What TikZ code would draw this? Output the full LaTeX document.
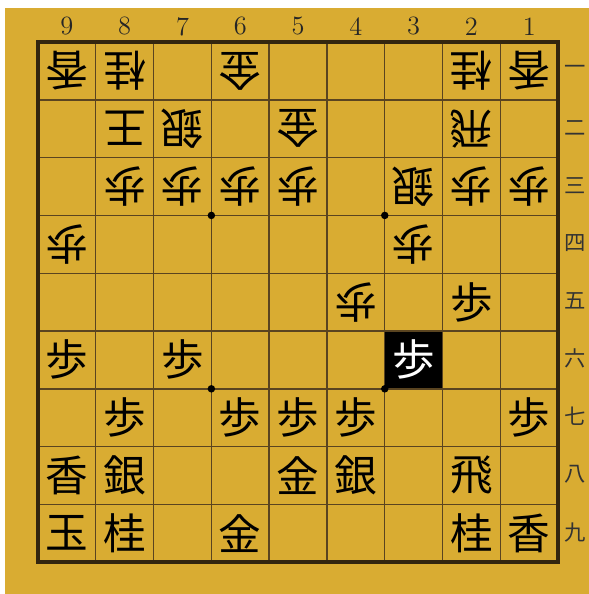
\documentclass[tikz,border=0pt]{standalone}
\usepackage{fontspec}
\newfontfamily\jpfont{Noto Sans CJK JP}
\usepackage{xcolor}
\usepackage{tikz}
\usetikzlibrary{positioning}

\definecolor{boardgold}{HTML}{D9AC32}
\definecolor{gridline}{HTML}{5A4420}
\definecolor{frameline}{HTML}{33260F}

\tikzset{
  sente/.style={font=\jpfont\fontsize{21}{21}\selectfont, inner sep=0pt},
  gote/.style={sente, rotate=180},
  filelabel/.style={font=\fontsize{13}{13}\selectfont, text=black!85},
  ranklabel/.style={font=\jpfont\fontsize{10.5}{10.5}\selectfont, text=black!80},
}

\begin{document}
\begin{tikzpicture}
      \useasboundingbox (-0.657,0.727) rectangle (9.533,-9.55);
      \fill[white] (-0.657,0.727) rectangle (9.533,-9.55);
      \fill[boardgold] (-0.571,0.588) rectangle (9.533,-9.55);

      % board
      \fill[black] (6,-5) rectangle (7,-6);
      \draw[gridline, line width=0.7pt] (0,-9) grid (9,0);
      \draw[frameline, line width=1.8pt] (0,0) rectangle (9,-9);
      \foreach \x/\y in {3/3, 6/3, 3/6, 6/6}
        \fill[black] (\x,-\y) circle (0.065);

      % file and rank labels
      \foreach \n [count=\i from 0] in {9,...,1}
        \node[filelabel] (f\n) at (\i+0.5, 0.27) {\n};
      \foreach \k [count=\r] in {一,二,三,四,五,六,七,八,九}
        \node[ranklabel] (r\r) at (9.3, -\r+0.52) {\k};

      % pieces of the opponent
      \foreach \c/\r/\p in {9/1/香, 8/1/桂, 6/1/金, 2/1/桂, 1/1/香,
                            8/2/王, 7/2/銀, 5/2/金, 2/2/飛,
                            8/3/歩, 7/3/歩, 6/3/歩, 5/3/歩, 3/3/銀, 2/3/歩, 1/3/歩,
                            9/4/歩, 3/4/歩, 4/5/歩}
        \node[gote] (p\c\r) at (9-\c+0.5, -\r+0.5) {\p};

      % own pieces
      \foreach \c/\r/\p in {2/5/歩, 9/6/歩, 7/6/歩,
                            8/7/歩, 6/7/歩, 5/7/歩, 4/7/歩, 1/7/歩,
                            9/8/香, 8/8/銀, 5/8/金, 4/8/銀, 2/8/飛,
                            9/9/玉, 8/9/桂, 6/9/金, 2/9/桂, 1/9/香}
        \node[sente] (p\c\r) at (9-\c+0.5, -\r+0.5) {\p};
      \node[sente, text=white] (p36) at (6.5, -5.5) {歩};
    \end{tikzpicture}
\end{document}
